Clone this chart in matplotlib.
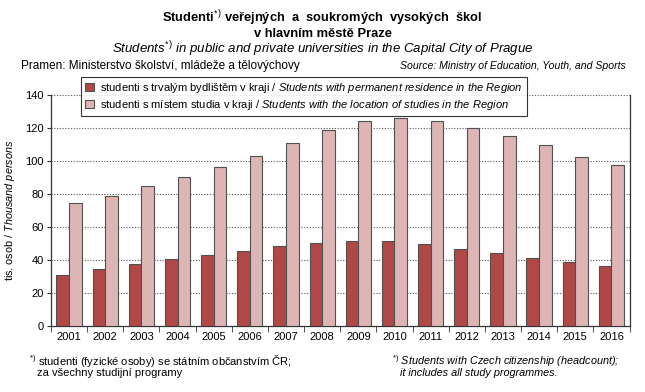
import matplotlib
matplotlib.use("Agg")
import matplotlib.pyplot as plt
import numpy as np

plt.rcParams['font.family'] = ['Liberation Sans', 'DejaVu Sans']
plt.rcParams['mathtext.fontset'] = 'custom'
plt.rcParams['mathtext.rm'] = 'Liberation Sans'
plt.rcParams['mathtext.it'] = 'Liberation Sans:italic'
plt.rcParams['mathtext.bf'] = 'Liberation Sans:bold'

years = [str(y) for y in range(2001, 2017)]
residence = [30.7, 34.2, 37.2, 40.3, 42.9, 45.1, 48.1, 50.0, 51.2, 51.2, 49.4, 46.3, 43.9, 40.9, 38.4, 36.0]
study_loc = [74.2, 78.5, 84.6, 90.0, 96.1, 102.8, 110.7, 118.5, 124.0, 125.8, 124.0, 119.8, 114.9, 109.4, 102.2, 97.3]
yticks = [0, 20, 40, 60, 80, 100, 120, 140]

lab_res = r"studenti s trvalým bydlištěm v kraji / $\mathit{Students\ with\ permanent\ residence\ in\ the\ Region}$"
lab_loc = r"studenti s místem studia v kraji / $\mathit{Students\ with\ the\ location\ of\ studies\ in\ the\ Region}$"

fig = plt.figure(figsize=(6.45, 3.92), dpi=100)
ax = fig.add_axes([0.079, 0.1696, 0.897, 0.588])

x = np.arange(len(years))
w = 0.35
edge = '#505050'
b1 = ax.bar(x - w/2, residence, w, color='#B04848', edgecolor=edge, linewidth=0.8, label=lab_res, zorder=3)
b2 = ax.bar(x + w/2, study_loc, w, color='#DDB5B5', edgecolor=edge, linewidth=0.8, label=lab_loc, zorder=3)

ax.set_xlim(-0.5, len(years) - 0.5)
ax.set_ylim(0, 140)
ax.set_yticks(yticks)
ax.tick_params(axis='y', labelsize=8, length=3, direction='out', color='#333333', pad=2)
ax.set_xticks(x)
ax.set_xticklabels(years, fontsize=8)
ax.tick_params(axis='x', length=0, pad=5)
ax.set_xticks(np.arange(-0.5, len(years), 1), minor=True)
ax.tick_params(axis='x', which='minor', length=4, direction='out', color='#333333')
for yv in yticks[1:]:
    ax.axhline(yv, color='#555555', linestyle=(0, (1, 1.5)), linewidth=0.8, zorder=1)
ax.spines['top'].set_visible(False)
for s in ['left', 'right', 'bottom']:
    ax.spines[s].set_color('#333333')
    ax.spines[s].set_linewidth(0.9)
ax.set_ylabel(r"tis. osob / $\mathit{Thousand\ persons}$", fontsize=7.8)
ax.yaxis.set_label_coords(-(51 - 17) / (0.897 * 645), (325.5 - 210) / (0.588 * 392))

leg = fig.legend(handles=[b1, b2], loc='upper left', bbox_to_anchor=(81/645, 1 - 77/392),
                 fontsize=8, frameon=True, fancybox=False, edgecolor='black',
                 handlelength=0.8, handleheight=0.8, handletextpad=0.6,
                 borderpad=0.35, labelspacing=0.25, borderaxespad=0)
leg.get_frame().set_linewidth(0.8)
leg.set_zorder(10)

fig.text(0.5, 1 - 18/392, r"Studenti$^{*)}$ veřejných  a  soukromých  vysokých  škol", ha='center', va='center',
         fontsize=9.3, fontweight='bold')
fig.text(0.5, 1 - 34/392, "v hlavním městě Praze", ha='center', va='center', fontsize=9.3, fontweight='bold')
fig.text(0.5, 1 - 49.5/392, r"$\mathit{Students}^{*)}$ in public and private universities in the Capital City of Prague",
         ha='center', va='center', fontsize=9.5, style='italic')
fig.text(21/645, 1 - 66/392, "Pramen: Ministerstvo školství, mládeže a tělovýchovy", ha='left', va='center', fontsize=8.5)
fig.text(626/645, 1 - 66/392, "Source: Ministry of Education, Youth, and Sports", ha='right', va='center',
         fontsize=7.6, style='italic')

fig.text(29/645, 1 - 361/392, r"$^{*)}$ studenti (fyzické osoby) se státním občanstvím ČR;", ha='left', va='center', fontsize=8)
fig.text(37/645, 1 - 373/392, "za všechny studijní programy", ha='left', va='center', fontsize=8)
fig.text(392/645, 1 - 361/392, r"$^{*)}$ Students with Czech citizenship (headcount);", ha='left', va='center',
         fontsize=7.8, style='italic')
fig.text(400/645, 1 - 373/392, "it includes all study programmes.", ha='left', va='center', fontsize=7.8, style='italic')

fig.savefig("out.png", dpi=100)
